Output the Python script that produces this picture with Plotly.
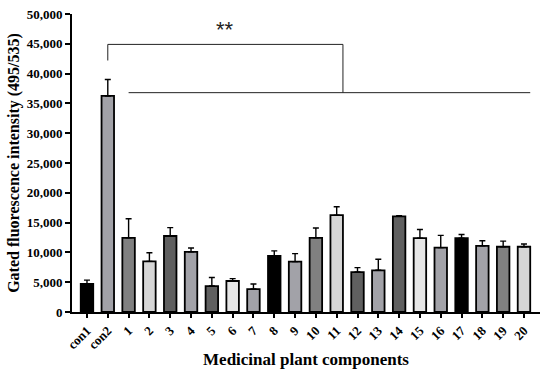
import plotly.graph_objects as go

categories = ["con1", "con2"] + [str(i) for i in range(1, 21)]
values = [4700, 36250, 12450, 8500, 12750, 10100, 4350, 5200, 3850, 9400, 8450,
          12450, 16250, 6700, 7000, 16050, 12400, 10800, 12400, 11100, 10950, 10950]
errors = [650, 2750, 3200, 1450, 1400, 650, 1450, 400, 850, 850, 1350,
          1650, 1400, 750, 1850, 120, 1450, 2050, 600, 850, 950, 450]
bar_colors = ["#000000", "#a2a2a8", "#808080", "#d6d6d6", "#606060", "#a2a2a8",
              "#606060", "#e6e6e6", "#a2a2a8", "#000000", "#a2a2a8", "#808080",
              "#d6d6d6", "#606060", "#a2a2a8", "#606060", "#e6e6e6", "#a2a2a8",
              "#000000", "#a2a2a8", "#808080", "#d6d6d6"]
y_ticks = list(range(0, 50001, 5000))

# significance annotation (data units)
bracket_top = 44900
bracket_left_bottom = 42200
long_line_level = 36800
bracket_right_x = 12.3
long_line_x = [2, 21.3]
star_text = "**"

font_family = "Liberation Serif, Times New Roman, serif"

fig = go.Figure()
fig.add_trace(go.Bar(
    x=list(range(len(categories))), y=values,
    marker=dict(color=bar_colors, line=dict(color="#000000", width=1.8)),
    width=0.6,
    error_y=dict(type="data", symmetric=False, array=errors,
                 arrayminus=[0] * len(errors), color="#000000",
                 thickness=1.4, width=3),
))

line_style = dict(color="#222222", width=1)
fig.add_shape(type="line", xref="x", yref="y", x0=1, x1=bracket_right_x,
              y0=bracket_top, y1=bracket_top, line=line_style)
fig.add_shape(type="line", xref="x", yref="y", x0=1, x1=1,
              y0=bracket_left_bottom, y1=bracket_top, line=line_style)
fig.add_shape(type="line", xref="x", yref="y", x0=bracket_right_x, x1=bracket_right_x,
              y0=long_line_level, y1=bracket_top, line=line_style)
fig.add_shape(type="line", xref="x", yref="y", x0=long_line_x[0], x1=long_line_x[1],
              y0=long_line_level, y1=long_line_level, line=line_style)
fig.add_annotation(x=(1 + bracket_right_x) / 2, y=bracket_top, yanchor="bottom",
                   text=star_text, showarrow=False,
                   font=dict(family="Arial, sans-serif", size=22, color="#222222"))

fig.update_layout(
    width=550, height=369,
    margin=dict(l=72, r=10, t=14, b=57, autoexpand=False),
    paper_bgcolor="white", plot_bgcolor="white",
    showlegend=False,
    font=dict(family=font_family, color="#000000"),
    bargap=0.4,
)
fig.update_xaxes(
    automargin=False,
    range=[-0.72, 21.77],
    tickmode="array", tickvals=list(range(len(categories))), ticktext=categories,
    tickangle=-45,
    tickfont=dict(family=font_family, size=13, weight="bold"),
    showline=True, linecolor="#000000", linewidth=2,
    ticks="outside", ticklen=4, tickwidth=1.5, tickcolor="#000000",
    showgrid=False, zeroline=False,
    title=dict(text="Medicinal plant components",
               font=dict(family=font_family, size=17, weight="bold"), standoff=4),
)
fig.update_yaxes(
    automargin=False,
    range=[0, 50000], tickvals=y_ticks, tickformat=",d",
    tickfont=dict(family=font_family, size=13, weight="bold"),
    showline=True, linecolor="#000000", linewidth=2,
    ticks="outside", ticklen=5, tickwidth=1.5, tickcolor="#000000",
    showgrid=False, zeroline=False,
    title=dict(text="Gated fluorescence intensity (495/535)",
               font=dict(family=font_family, size=16, weight="bold"), standoff=3),
)

fig.write_html("out.html", config={"displayModeBar": False},
               post_script="document.body.style.margin='0';")
